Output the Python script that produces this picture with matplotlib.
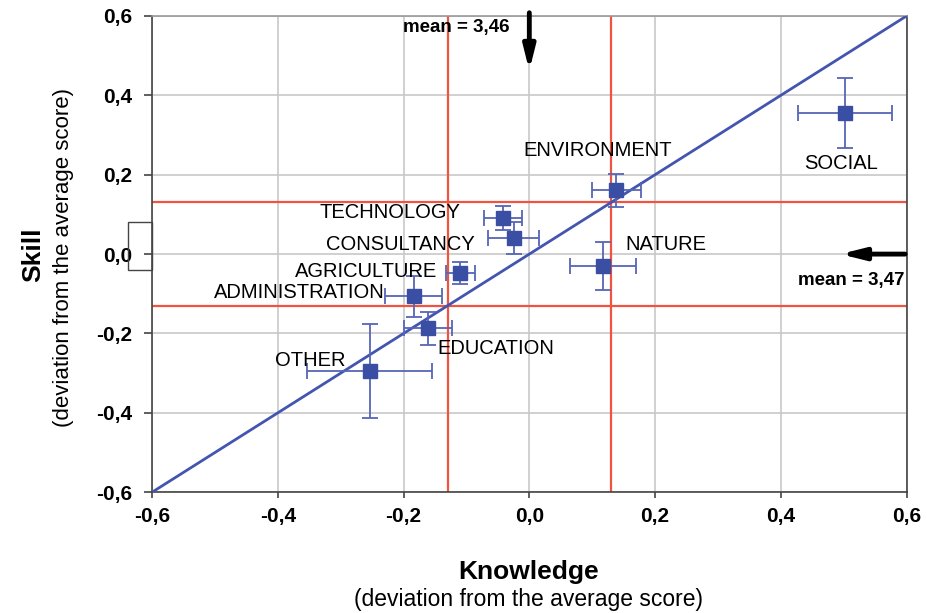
import matplotlib
matplotlib.use("Agg")
import matplotlib.pyplot as plt
from matplotlib.patches import Rectangle

plt.rcParams['font.family'] = ['Liberation Sans', 'DejaVu Sans']

sectors = ['SOCIAL', 'ENVIRONMENT', 'TECHNOLOGY', 'CONSULTANCY', 'NATURE',
           'AGRICULTURE', 'ADMINISTRATION', 'EDUCATION', 'OTHER']
knowledge = [0.502, 0.138, -0.042, -0.025, 0.117, -0.110, -0.184, -0.161, -0.254]
skill = [0.355, 0.161, 0.091, 0.040, -0.030, -0.048, -0.106, -0.187, -0.295]
knowledge_err = [0.075, 0.039, 0.030, 0.040, 0.052, 0.023, 0.045, 0.038, 0.099]
skill_err = [0.088, 0.042, 0.030, 0.040, 0.060, 0.028, 0.052, 0.042, 0.118]

# label offsets (dx, dy, ha)
label_pos = {
    'SOCIAL': (-0.007, -0.128, 'center'),
    'ENVIRONMENT': (-0.029, 0.099, 'center'),
    'TECHNOLOGY': (-0.068, 0.015, 'right'),
    'CONSULTANCY': (-0.062, -0.017, 'right'),
    'NATURE': (0.036, 0.055, 'left'),
    'AGRICULTURE': (-0.037, 0.003, 'right'),
    'ADMINISTRATION': (-0.046, 0.008, 'right'),
    'EDUCATION': (0.014, -0.05, 'left'),
    'OTHER': (-0.039, 0.028, 'right'),
}

ticks = [-0.6, -0.4, -0.2, 0.0, 0.2, 0.4, 0.6]
tick_labels = ['-0,6', '-0,4', '-0,2', '0,0', '0,2', '0,4', '0,6']
mean_k = 0.13
mean_s = 0.13

blue = '#3a4fa3'
red = '#f0533f'

fig = plt.figure(figsize=(9.27, 6.13), dpi=100)
ax = fig.add_axes([0.164, 0.197, 0.814, 0.777])

ax.set_xlim(-0.6, 0.6)
ax.set_ylim(-0.6, 0.6)
ax.set_xticks(ticks)
ax.set_yticks(ticks)
ax.set_xticklabels(tick_labels, fontsize=15, fontweight='bold')
ax.set_yticklabels(tick_labels, fontsize=15, fontweight='bold')
ax.tick_params(axis='x', length=4.5, width=1.2, color='#444444', pad=6)
ax.tick_params(axis='y', length=5.5, width=1.2, color='#444444', pad=9)
ax.grid(True, color='#c8c8c8', linewidth=1.2)
ax.set_axisbelow(True)
for s in ax.spines.values():
    s.set_color('#444444')
    s.set_linewidth(1.2)
ax.spines['top'].set_color('#999999')

ax.plot([-0.6, 0.6], [-0.6, 0.6], color='#4455b0', linewidth=2, zorder=3)

for v in (-mean_k, mean_k):
    ax.axvline(v, color=red, linewidth=1.6, zorder=2)
for v in (-mean_s, mean_s):
    ax.axhline(v, color=red, linewidth=1.6, zorder=2)

ax.errorbar(knowledge, skill, xerr=knowledge_err, yerr=skill_err, fmt='s',
            color=blue, ecolor='#5566b5', markersize=9.5, elinewidth=1.3,
            capsize=6, capthick=1.3, zorder=4)

for name, x, y in zip(sectors, knowledge, skill):
    dx, dy, ha = label_pos[name]
    ax.text(x + dx, y + dy, name, ha=ha, va='center', fontsize=14.5, zorder=5)

arrow = dict(arrowstyle='-|>,head_width=0.35,head_length=1.4',
             color='black', linewidth=3.5)
ax.annotate('', xy=(0.0, 0.455), xytext=(0.0, 0.615),
            arrowprops=arrow, annotation_clip=False)
ax.text(-0.031, 0.57, 'mean = 3,46', ha='right', va='center', fontsize=13.5,
        fontweight='bold')
ax.annotate('', xy=(0.49, 0.0), xytext=(0.602, 0.0),
            arrowprops=arrow, annotation_clip=False)
ax.text(0.597, -0.066, 'mean = 3,47', ha='right', va='center', fontsize=13.5,
        fontweight='bold')

# leftover box at the axis edge
ax.add_patch(Rectangle((-0.032, 0.466), 0.032, 0.101, transform=ax.transAxes,
                       fill=False, edgecolor='#444444', linewidth=1,
                       clip_on=False))

fig.text(0.57, 0.067, 'Knowledge', ha='center', va='center', fontsize=19,
         fontweight='bold')
fig.text(0.57, 0.022, '(deviation from the average score)', ha='center',
         va='center', fontsize=16.5)
fig.text(0.036, 0.585, 'Skill', ha='center', va='center', rotation=90,
         fontsize=19, fontweight='bold')
fig.text(0.068, 0.58, '(deviation from the average score)', ha='center',
         va='center', rotation=90, fontsize=16)

fig.savefig('out.png', dpi=100)
